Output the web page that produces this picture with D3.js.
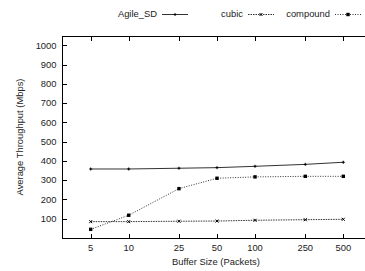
<!DOCTYPE html>
<html>
<head>
<meta charset="utf-8">
<script src="https://cdn.jsdelivr.net/npm/d3@7"></script>
<style>
  body { margin: 0; background: #fff; }
  svg { font-family: "Liberation Sans", Arial, sans-serif; fill: #222; }
</style>
</head>
<body>
<script>
var buffers = [5, 10, 25, 50, 100, 250, 500];
var yTicks = [100, 200, 300, 400, 500, 600, 700, 800, 900, 1000];
var agile = [358, 358, 362, 365, 372, 382, 393];
var cubic = [85, 85, 87, 88, 92, 95, 97];
var compound = [45, 118, 256, 310, 317, 320, 320];

var w = 365, h = 271;
var plotLeft = 62, plotTop = 36, plotBottom = 238, plotRight = 370;
var fs = 9.4;

var svg = d3.select("body").append("svg")
  .attr("width", w).attr("height", h);

var x = d3.scaleLog().domain([5, 500]).range([90.7, 343.3]);
var y = d3.scaleLinear().domain([0, 1048]).range([plotBottom, plotTop]);

// frame
svg.append("rect")
  .attr("x", plotLeft + 0.5).attr("y", plotTop + 0.5)
  .attr("width", plotRight - plotLeft).attr("height", plotBottom - plotTop)
  .attr("fill", "none").attr("stroke", "#000").attr("stroke-width", 1);

// x ticks (bottom and top, inward)
buffers.forEach(function(b) {
  var px = Math.round(x(b)) + 0.5;
  svg.append("line").attr("x1", px).attr("x2", px)
    .attr("y1", plotBottom).attr("y2", plotBottom - 4).attr("stroke", "#000");
  svg.append("line").attr("x1", px).attr("x2", px)
    .attr("y1", plotTop + 1).attr("y2", plotTop + 5).attr("stroke", "#000");
  svg.append("text").attr("x", x(b)).attr("y", 251)
    .attr("text-anchor", "middle").attr("font-size", fs).text(b);
});

// y ticks
yTicks.forEach(function(t) {
  var py = Math.round(y(t)) + 0.5;
  svg.append("line").attr("x1", plotLeft + 1).attr("x2", plotLeft + 5)
    .attr("y1", py).attr("y2", py).attr("stroke", "#000");
  svg.append("text").attr("x", 56.5).attr("y", y(t) + 3.3)
    .attr("text-anchor", "end").attr("font-size", fs).text(t);
});

svg.append("text").attr("x", 216).attr("y", 265)
  .attr("text-anchor", "middle").attr("font-size", fs)
  .text("Buffer Size (Packets)");

svg.append("text")
  .attr("transform", "translate(23,137) rotate(-90)")
  .attr("text-anchor", "middle").attr("font-size", fs)
  .text("Average Throughput (Mbps)");

var series = [
  { name: "Agile_SD", values: agile, dash: null, marker: "plus", lx: 162 },
  { name: "cubic", values: cubic, dash: "1.5,1", marker: "cross", lx: 248 },
  { name: "compound", values: compound, dash: "1,1.5", marker: "square", lx: 335 }
];

var line = d3.line()
  .x(function(d, i) { return x(buffers[i]); })
  .y(function(d) { return y(d); });

function marker(g, kind, cx, cy) {
  if (kind === "plus") {
    g.append("path").attr("d", "M" + (cx - 1.5) + "," + cy + "h3M" + cx + "," + (cy - 1.5) + "v3")
      .attr("stroke", "#000").attr("stroke-width", 1);
  } else if (kind === "cross") {
    g.append("path").attr("d", "M" + (cx - 1.5) + "," + (cy - 1.5) + "l3,3M" + (cx - 1.5) + "," + (cy + 1.5) + "l3,-3")
      .attr("stroke", "#000").attr("stroke-width", 1);
  } else {
    g.append("rect").attr("x", cx - 1.7).attr("y", cy - 1.7).attr("width", 3.4).attr("height", 3.4)
      .attr("fill", "#000");
  }
}

series.forEach(function(s) {
  var g = svg.append("g");
  g.append("path").datum(s.values)
    .attr("d", line).attr("fill", "none")
    .attr("stroke", "#333").attr("stroke-width", 1)
    .attr("stroke-dasharray", s.dash);
  s.values.forEach(function(v, i) { marker(g, s.marker, x(buffers[i]), y(v)); });

  // legend
  var ly = 14;
  svg.append("text").attr("x", s.lx - 5).attr("y", ly + 3.3)
    .attr("text-anchor", "end").attr("font-size", fs).text(s.name);
  svg.append("line").attr("x1", s.lx).attr("x2", s.lx + 26)
    .attr("y1", ly + 0.5).attr("y2", ly + 0.5)
    .attr("stroke", "#333").attr("stroke-width", 1)
    .attr("stroke-dasharray", s.dash);
  marker(svg, s.marker, s.lx + 13, ly + 0.5);
});
</script>
</body>
</html>
